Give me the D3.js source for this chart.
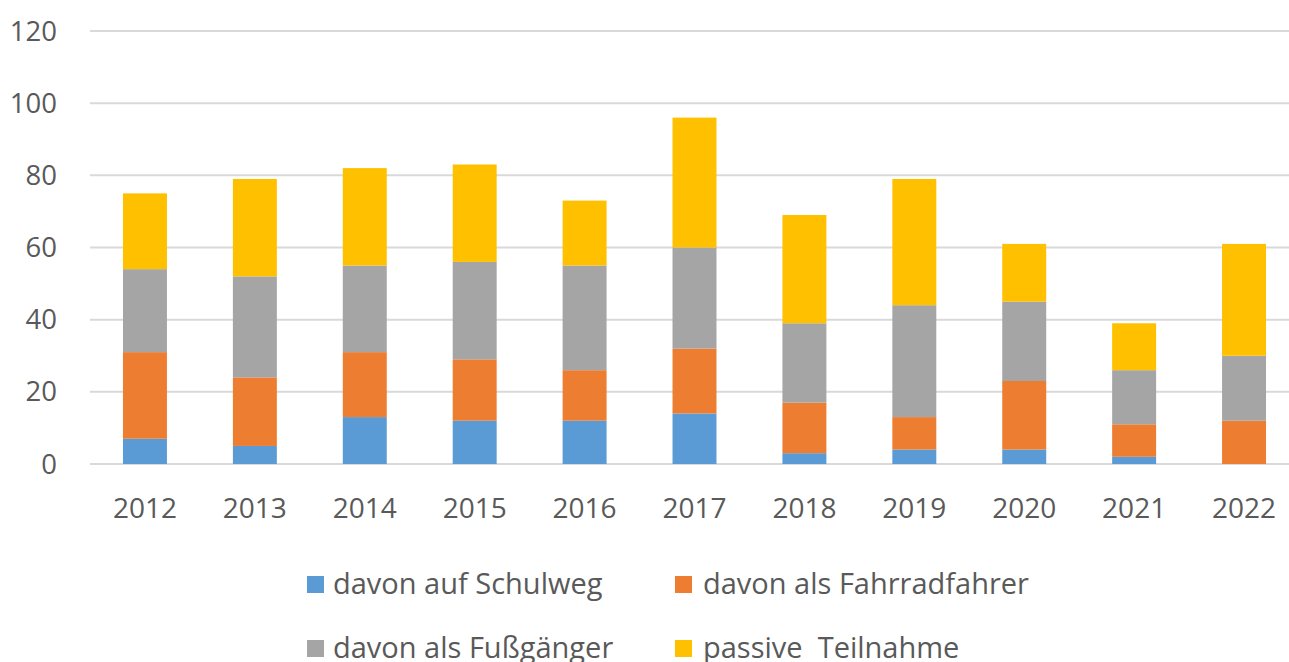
<!DOCTYPE html>
<html>
<head>
<meta charset="utf-8">
<script src="https://cdn.jsdelivr.net/npm/d3@7"></script>
<style>
  body { margin: 0; background: #fff; }
  text { font-family: "Open Sans", sans-serif; fill: #595959; }
</style>
</head>
<body>
<svg id="chart" width="1289" height="662"></svg>
<script>
// data
var years = ["2012", "2013", "2014", "2015", "2016", "2017", "2018", "2019", "2020", "2021", "2022"];
var schulweg = [7, 5, 13, 12, 12, 14, 3, 4, 4, 2, 0];
var fahrrad = [24, 19, 18, 17, 14, 18, 14, 9, 19, 9, 12];
var fussgaenger = [23, 28, 24, 27, 29, 28, 22, 31, 22, 15, 18];
var passiv = [21, 27, 27, 27, 18, 36, 30, 35, 16, 13, 31];
var seriesNames = ["davon auf Schulweg", "davon als Fahrradfahrer", "davon als Fußgänger", "passive  Teilnahme"];
var yTicks = [0, 20, 40, 60, 80, 100, 120];

var colors = ["#5B9BD5", "#ED7D31", "#A5A5A5", "#FFC000"];
var keys = ["schulweg", "fahrrad", "fussgaenger", "passiv"];

var rows = years.map(function (y, i) {
    return { year: y, schulweg: schulweg[i], fahrrad: fahrrad[i], fussgaenger: fussgaenger[i], passiv: passiv[i] };
});

var svg = d3.select("#chart");

var x = d3.scaleBand()
    .domain(years)
    .range([90, 1299])
    .paddingInner(0.6)
    .paddingOuter(0.3);

var y = d3.scaleLinear()
    .domain([0, 120])
    .range([464, 31]);

// gridlines
svg.append("g")
    .selectAll("line")
    .data(yTicks)
    .join("line")
    .attr("x1", 90)
    .attr("x2", 1299)
    .attr("y1", function (d) { return y(d); })
    .attr("y2", function (d) { return y(d); })
    .attr("stroke", "#d9d9d9")
    .attr("stroke-width", 2);

// y labels
svg.append("g")
    .selectAll("text")
    .data(yTicks)
    .join("text")
    .attr("x", 57)
    .attr("y", function (d) { return y(d); })
    .attr("dy", "0.35em")
    .attr("text-anchor", "end")
    .style("font-size", "27.5px")
    .text(function (d) { return d; });

// stacked bars
var stack = d3.stack().keys(keys)(rows);

svg.append("g")
    .selectAll("g")
    .data(stack)
    .join("g")
    .attr("fill", function (d, i) { return colors[i]; })
    .selectAll("rect")
    .data(function (d) { return d; })
    .join("rect")
    .attr("x", function (d) { return x(d.data.year); })
    .attr("width", x.bandwidth())
    .attr("y", function (d) { return y(d[1]); })
    .attr("height", function (d) { return y(d[0]) - y(d[1]); });

// x labels
svg.append("g")
    .selectAll("text")
    .data(years)
    .join("text")
    .attr("x", function (d) { return x(d) + x.bandwidth() / 2; })
    .attr("y", 508)
    .attr("dy", "0.35em")
    .attr("text-anchor", "middle")
    .style("font-size", "28px")
    .text(function (d) { return d; });

// legend, 2 x 2
var legendPos = [[307, 584], [675, 584], [307, 648], [675, 648]];
var legend = svg.append("g")
    .selectAll("g")
    .data(seriesNames)
    .join("g")
    .attr("transform", function (d, i) { return "translate(" + legendPos[i][0] + "," + legendPos[i][1] + ")"; });

legend.append("rect")
    .attr("x", 0)
    .attr("y", -8)
    .attr("width", 17)
    .attr("height", 17)
    .attr("fill", function (d, i) { return colors[i]; });

legend.append("text")
    .attr("x", function (d, i) { return i % 2 == 0 ? 26 : 28; })
    .attr("y", 0)
    .attr("dy", "0.35em")
    .style("font-size", "29px")
    .style("white-space", "pre")
    .text(function (d) { return d; });
</script>
</body>
</html>
